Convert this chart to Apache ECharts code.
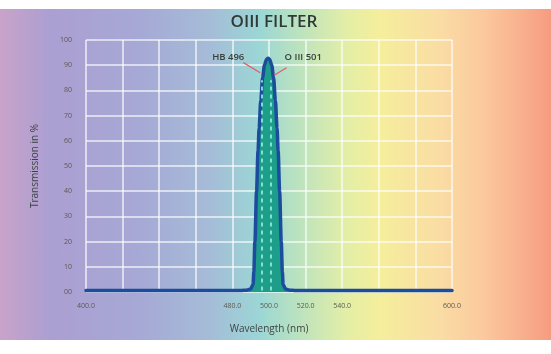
<!DOCTYPE html>
<html>
<head>
<meta charset="utf-8">
<script src="https://cdn.jsdelivr.net/npm/echarts@6/dist/echarts.min.js"></script>
<style>
  html, body { margin: 0; padding: 0; background: #fff; }
  #wrap { position: relative; width: 551px; height: 354px; overflow: hidden; }
  #bg {
    position: absolute; left: 0; top: 9px; width: 551px; height: 331px;
    background: linear-gradient(to right,
      #c9a3c9 0%, #ab9fd2 9%, #a6a8d5 25%, #a5bcd8 38%, #9bd6d5 47%,
      #bfe4bc 55%, #e4eea6 63%, #f5ee9c 69%, #fadca4 80%, #fbc89d 88%, #f69c80 100%);
  }
  #chart { position: absolute; left: 0; top: 0; width: 551px; height: 354px; }
</style>
</head>
<body>
<div id="wrap">
  <div id="bg"></div>
  <div id="chart"></div>
</div>
<script>
// filter curve (wavelength nm, transmission %)
const wavelengths = [400, 485, 487.5, 490, 491.3, 491.7, 492.3, 493.2, 494, 494.6, 495.5, 496.5, 497.5, 498.6, 499.5,
  500.4, 501.5, 502.5, 503.5, 504.4, 505, 505.8, 506.7, 507.3, 507.7, 509, 511.5, 514, 600];
const transmission = [0.6, 0.6, 0.7, 1.2, 3, 8, 20, 40, 56, 65, 76, 85, 90, 92.3, 92.8,
  92.3, 90, 85, 76, 65, 56, 40, 20, 8, 3, 1.2, 0.7, 0.6, 0.6];

const xLabelValues = [400, 480, 500, 520, 540, 600];
const emissionLines = [496, 501];
const emissionNames = ['HB 496', 'O III 501'];

const chart = echarts.init(document.getElementById('chart'), null, { renderer: 'canvas' });

const font = '"Open Sans", "Noto Sans", sans-serif';
const gridLine = { lineStyle: { color: 'rgba(255,255,255,0.8)', width: 1.5 } };

chart.setOption({
  backgroundColor: 'transparent',
  title: {
    text: 'OIII FILTER',
    left: 269, top: 9, textAlign: 'center',
    textStyle: { fontFamily: font, fontSize: 17, fontWeight: 600, color: '#2f3a36' }
  },
  grid: { left: 86, right: 99, top: 40, bottom: 62 },
  xAxis: {
    type: 'value', min: 400, max: 600, interval: 20,
    name: 'Wavelength (nm)', nameLocation: 'middle', nameGap: 32,
    nameTextStyle: { fontFamily: font, fontSize: 10, color: '#3d4444' },
    axisLine: { show: false }, axisTick: { show: false },
    splitLine: gridLine,
    axisLabel: {
      fontFamily: font, fontSize: 7, color: '#5a5a52', margin: 10,
      formatter: v => xLabelValues.includes(v) ? v.toFixed(1) : ''
    }
  },
  yAxis: {
    type: 'value', min: 0, max: 100, interval: 10,
    name: 'Transmission in %', nameLocation: 'middle', nameGap: 46,
    nameTextStyle: { fontFamily: font, fontSize: 10, color: '#3d4444' },
    axisLine: { show: false }, axisTick: { show: false },
    splitLine: gridLine,
    axisLabel: {
      fontFamily: font, fontSize: 7, color: '#5a5a52', margin: 14,
      formatter: v => v === 0 ? '00' : String(v)
    }
  },
  series: [
    {
      type: 'line',
      data: wavelengths.map((w, i) => [w, transmission[i]]),
      smooth: 0.3,
      smoothMonotone: 'x',
      symbol: 'none',
      z: 3,
      lineStyle: { color: '#1c4c9c', width: 3.5, cap: 'round', join: 'round' },
      areaStyle: { color: '#1c9e8b', opacity: 1 },
      markLine: {
        silent: true, symbol: 'none', z: 4,
        label: { show: false },
        lineStyle: { color: '#9af2de', width: 1.8, type: [4, 4], opacity: 0.9 },
        data: emissionLines.map(w => [{ coord: [w, 0.6] }, { coord: [w, 84] }])
      }
    },
    {
      // leader lines and labels
      type: 'line',
      data: [],
      markLine: {
        silent: true, symbol: 'none', z: 5,
        label: { show: false },
        lineStyle: { color: '#e0606a', width: 1.3, type: 'solid' },
        data: [
          [{ coord: [486, 91] }, { coord: [495.2, 87] }],
          [{ coord: [502.8, 86] }, { coord: [509.6, 89] }]
        ]
      },
      markPoint: {
        silent: true, symbol: 'circle', symbolSize: 0,
        data: [
          { coord: [486.5, 93.2], label: { show: true, position: 'left', distance: 0, formatter: emissionNames[0] } },
          { coord: [508.5, 93.2], label: { show: true, position: 'right', distance: 0, formatter: emissionNames[1] } }
        ],
        label: { fontFamily: font, fontSize: 9.5, fontWeight: 600, color: '#3a3f3c' }
      }
    }
  ]
});
</script>
</body>
</html>
